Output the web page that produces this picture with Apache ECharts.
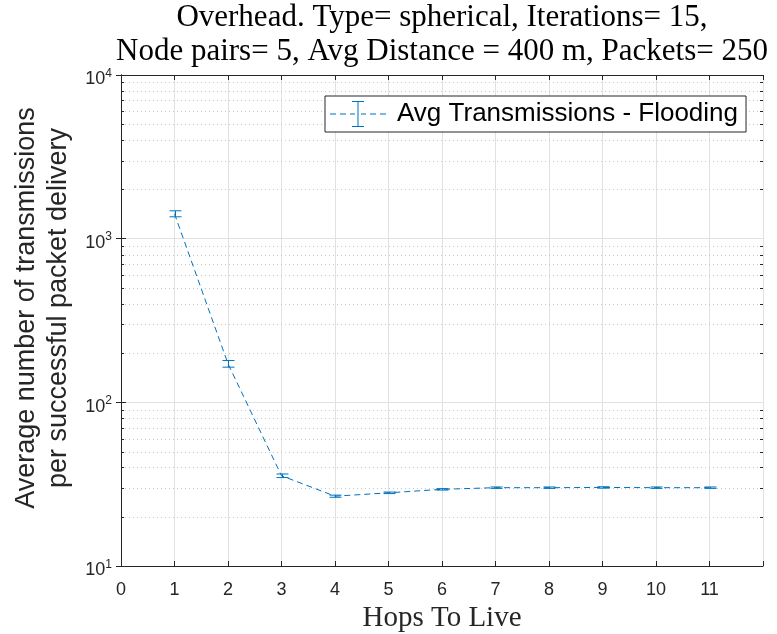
<!DOCTYPE html>
<html><head><meta charset="utf-8">
<script src="https://cdn.jsdelivr.net/npm/echarts@6/dist/echarts.min.js"></script>
<style>html,body{margin:0;padding:0;background:#fff}#c{width:777px;height:634px}</style>
</head><body><div id="c"></div>
<script>
// ---- data ----
const hops = [1, 2, 3, 4, 5, 6, 7, 8, 9, 10, 11];
const avgTx = [1420, 172, 35.6, 26.7, 28.0, 29.4, 30.1, 30.1, 30.2, 30.1, 30.1];
const errTx = [60, 8, 0.9, 0.4, 0.3, 0.3, 0.3, 0.3, 0.3, 0.3, 0.3];
const xTickLabels = ['0', '1', '2', '3', '4', '5', '6', '7', '8', '9', '10', '11'];
const yTickExponents = [1, 2, 3, 4];
const yMinorTicks = [20, 30, 40, 50, 60, 70, 80, 90, 200, 300, 400, 500, 600, 700, 800, 900, 2000, 3000, 4000, 5000, 6000, 7000, 8000, 9000];
const seriesName = 'Avg Transmissions - Flooding';
const titleLines = ['Overhead. Type= spherical, Iterations= 15,', 'Node pairs= 5, Avg Distance = 400 m, Packets= 250'];
const xName = 'Hops To Live';
const yNameLines = ['Average number of transmissions', 'per successful packet delivery'];

const blue = '#0072BD';
const axisCol = '#262626';
const gridCol = '#e2e2e2';
const sans = 'Liberation Sans, Arial, sans-serif';
const serif = 'Liberation Serif, Times New Roman, serif';

const chart = echarts.init(document.getElementById('c'), null, {renderer: 'canvas'});

const legendIcon = 'path://M0 12.5h6v1h-6z M10 12.5h6v1h-6z M20 12.5h5v1h-5z M31 12.5h5v1h-5z M40 12.5h6v1h-6z M50 12.5h6v1h-6z M27.5 1h1v24h-1z M22 0h12v1h-12z M22 25h12v1h-12z';

const axisLineCommon = {show: true, lineStyle: {color: axisCol, width: 1}};
const tickCommon = {show: true, inside: true, length: 5, lineStyle: {color: axisCol, width: 1}};

chart.setOption({
  animation: false,
  backgroundColor: '#fff',
  title: {
    text: titleLines.join('\n'),
    left: 442, top: 1, padding: 0,
    textAlign: 'center',
    textStyle: {fontFamily: serif, fontSize: 31, lineHeight: 34, fontWeight: 'normal', color: '#000'}
  },
  legend: {
    data: [{name: seriesName, icon: legendIcon}],
    left: 325, top: 96,
    orient: 'vertical',
    itemWidth: 56, itemHeight: 26,
    padding: [5, 8, 5, 5],
    backgroundColor: '#fff',
    borderColor: axisCol, borderWidth: 1, borderRadius: 0,
    itemStyle: {borderWidth: 0},
    textStyle: {fontFamily: sans, fontSize: 26, color: '#000', padding: [0, 0, 0, 6]}
  },
  grid: {left: 121, right: 14, top: 75, bottom: 68, containLabel: false, outerBoundsMode: 'none'},
  xAxis: [{
    type: 'value', min: 0, max: 12, interval: 1, position: 'bottom',
    axisLine: axisLineCommon, axisTick: tickCommon,
    axisLabel: {
      formatter: v => (xTickLabels[v] !== undefined ? xTickLabels[v] : ''),
      fontFamily: sans, fontSize: 18, color: axisCol, margin: 15
    },
    splitLine: {show: true, lineStyle: {color: gridCol, width: 1}},
    name: xName, nameLocation: 'middle', nameGap: 32,
    nameTextStyle: {fontFamily: serif, fontSize: 29, color: axisCol}
  }, {
    type: 'value', min: 0, max: 12, interval: 1, position: 'top',
    axisLine: axisLineCommon, axisTick: tickCommon,
    axisLabel: {show: false}, splitLine: {show: false}
  }],
  yAxis: [{
    type: 'log', logBase: 10, min: 10, max: 10000, position: 'left',
    axisLine: axisLineCommon, axisTick: tickCommon,
    axisLabel: {
      formatter: v => {
        const e = Math.round(Math.log10(v));
        return yTickExponents.indexOf(e) >= 0 ? '{b|10}{s|' + e + '}' : '';
      },
      margin: 9, padding: [6, 0, 0, 0],
      rich: {
        b: {fontFamily: sans, fontSize: 18, color: axisCol, verticalAlign: 'bottom', padding: [3, 0, 0, 0]},
        s: {fontFamily: sans, fontSize: 12, color: axisCol, verticalAlign: 'top'}
      }
    },
    splitLine: {show: true, lineStyle: {color: gridCol, width: 1}},
    name: yNameLines.join('\n'), nameLocation: 'middle', nameRotate: 90, nameGap: 45,
    nameTextStyle: {fontFamily: sans, fontSize: 27, lineHeight: 32, color: axisCol, padding: [0, 0, 0, 25]}
  }, {
    type: 'log', logBase: 10, min: 10, max: 10000, position: 'right',
    axisLine: axisLineCommon, axisTick: tickCommon,
    axisLabel: {show: false}, splitLine: {show: false}
  }],
  series: [{
    name: 'minorGrid', type: 'custom', silent: true, z: 1,
    xAxisIndex: 0, yAxisIndex: 0,
    data: yMinorTicks.map(v => [0, v]),
    encode: {x: 0, y: 1},
    renderItem: (params, api) => {
      const cs = params.coordSys;
      const y = Math.round(api.coord([0, api.value(1)])[1]) + 0.5;
      return {type: 'group', children: [
        {type: 'line', shape: {x1: cs.x, y1: y, x2: cs.x + cs.width, y2: y},
          style: {stroke: '#c8c8c8', lineWidth: 1, lineDash: [1, 3]}},
        {type: 'line', shape: {x1: cs.x, y1: y, x2: cs.x + 3, y2: y}, style: {stroke: axisCol, lineWidth: 1}},
        {type: 'line', shape: {x1: cs.x + cs.width - 3, y1: y, x2: cs.x + cs.width, y2: y}, style: {stroke: axisCol, lineWidth: 1}}
      ]};
    }
  }, {
    name: 'line', type: 'line', z: 3,
    data: hops.map((h, i) => [h, avgTx[i]]),
    symbol: 'none', smooth: false,
    lineStyle: {color: blue, width: 1, type: [6, 4]},
    itemStyle: {color: blue}
  }, {
    name: seriesName, type: 'custom', z: 4,
    itemStyle: {color: blue},
    data: hops.map((h, i) => [h, avgTx[i] - errTx[i], avgTx[i] + errTx[i]]),
    encode: {x: 0, y: [1, 2]},
    renderItem: (params, api) => {
      const x = api.value(0);
      const pLo = api.coord([x, api.value(1)]);
      const pHi = api.coord([x, api.value(2)]);
      const px = Math.round(pLo[0]) + 0.5;
      const hw = 6;
      const st = {stroke: blue, lineWidth: 1};
      return {type: 'group', children: [
        {type: 'line', shape: {x1: px, y1: pLo[1], x2: px, y2: pHi[1]}, style: st},
        {type: 'line', shape: {x1: px - hw, y1: pLo[1], x2: px + hw, y2: pLo[1]}, style: st},
        {type: 'line', shape: {x1: px - hw, y1: pHi[1], x2: px + hw, y2: pHi[1]}, style: st}
      ]};
    }
  }]
});
</script></body></html>
